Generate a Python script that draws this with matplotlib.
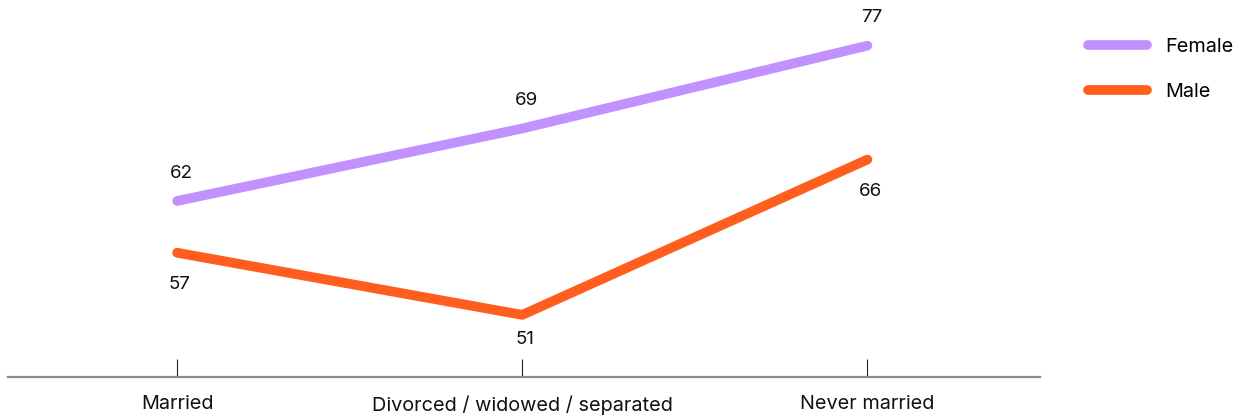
import matplotlib
matplotlib.use("Agg")
import matplotlib.pyplot as plt

plt.rcParams['font.family'] = ['Inter', 'DejaVu Sans']

categories = ["Married", "Divorced / widowed / separated", "Never married"]
female = [62, 69, 77]
male = [57, 51, 66]

FEMALE_COLOR = "#C091FF"
MALE_COLOR = "#FF5E1F"

fig = plt.figure(figsize=(12.4, 4.19), dpi=100)
ax = fig.add_axes([8 / 1240, 42 / 419, (1040 - 8) / 1240, 1 - 42 / 419 - 14.6 / 419])

x = list(range(len(categories)))
lw = 7
ax.plot(x, female, color=FEMALE_COLOR, lw=lw, solid_capstyle="round",
        solid_joinstyle="round", label="Female")
ax.plot(x, male, color=MALE_COLOR, lw=lw, solid_capstyle="round",
        solid_joinstyle="round", label="Male")

for xi, v in zip(x, female):
    ax.annotate(f"{v}", (xi, v), xytext=(3, 20), textcoords="offset points",
                ha="center", va="center", fontsize=13.5, color="#111111")
for xi, v, dy in zip(x, male, (-23, -18, -23)):
    ax.annotate(f"{v}", (xi, v), xytext=(2, dy), textcoords="offset points",
                ha="center", va="center", fontsize=13.5, color="#111111")

ax.set_xlim(-0.49, 2.5)
ax.set_ylim(45, 80)
ax.set_xticks(x)
ax.set_xticklabels(categories, fontsize=14.3, color="#111111")
ax.set_yticks([])
ax.tick_params(axis="x", direction="in", length=13, width=0.8, color="#222222", pad=13)

for side in ("top", "right", "left"):
    ax.spines[side].set_visible(False)
ax.spines["bottom"].set_color("#8a8a8a")
ax.spines["bottom"].set_linewidth(1.6)

leg = fig.legend(loc="upper left", bbox_to_anchor=(1070 / 1240, 1 - 20 / 419),
                 frameon=False, fontsize=14.3, handlelength=3.0, handletextpad=0.9,
                 labelspacing=1.35)
for line in leg.get_lines():
    line.set_linewidth(7)
    line.set_solid_capstyle("round")

fig.savefig("out.png", dpi=100)
